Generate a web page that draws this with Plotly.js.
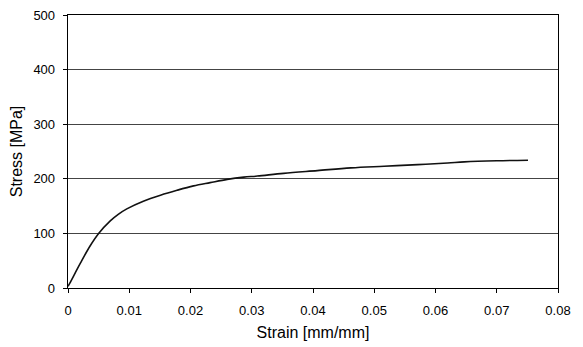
<!DOCTYPE html>
<html>
<head>
<meta charset="utf-8">
<script src="https://cdn.plot.ly/plotly-3.0.1.min.js"></script>
<style>html,body{margin:0;padding:0;background:#fff;}#chart{width:583px;height:347px;}</style>
</head>
<body>
<div id="chart"></div>
<script>
const strain = [0, 0.0003, 0.002, 0.0036, 0.005, 0.0069, 0.0082, 0.0096, 0.0123, 0.0151, 0.0178, 0.0205, 0.0232, 0.026, 0.0287, 0.0309, 0.0352, 0.0407, 0.0462, 0.0516, 0.0571, 0.062, 0.0647, 0.07, 0.0751];
const stress = [3, 9, 45, 77, 100, 123, 135, 145, 159, 170, 179, 187, 193, 199, 203, 205, 210, 215, 220, 223, 226, 229, 231, 233, 234];
const xTicks = [0, 0.01, 0.02, 0.03, 0.04, 0.05, 0.06, 0.07, 0.08];
const xTickLabels = ['0', '0.01', '0.02', '0.03', '0.04', '0.05', '0.06', '0.07', '0.08'];
const yTicks = [0, 100, 200, 300, 400, 500];

const trace = {
  x: strain, y: stress, type: 'scatter', mode: 'lines',
  line: {color: '#111', width: 1.6, shape: 'spline', smoothing: 1},
  hoverinfo: 'skip'
};

const layout = {
  width: 583, height: 347,
  margin: {l: 68, r: 25, t: 15, b: 59},
  paper_bgcolor: '#fff', plot_bgcolor: '#fff',
  showlegend: false,
  font: {family: 'Liberation Sans, Arial, sans-serif', size: 13, color: '#000'},
  xaxis: {
    range: [0, 0.08], tickvals: xTicks, ticktext: xTickLabels,
    showgrid: false, zeroline: false,
    showline: true, linecolor: '#000', linewidth: 1.3, mirror: true,
    ticks: 'outside', ticklen: 4, tickcolor: '#000',
    ticklabelstandoff: 6,
    tickfont: {size: 13},
    title: {text: 'Strain [mm/mm]', font: {size: 16}, standoff: 10}
  },
  yaxis: {
    range: [0, 500], tickvals: yTicks,
    showgrid: true, gridcolor: '#444', gridwidth: 1,
    zeroline: false,
    showline: true, linecolor: '#000', linewidth: 1.3, mirror: true,
    ticks: 'outside', ticklen: 4, tickcolor: '#000',
    ticklabelstandoff: 5,
    tickfont: {size: 13},
    title: {text: 'Stress [MPa]', font: {size: 16}, standoff: 6}
  }
};

Plotly.newPlot('chart', [trace], layout, {staticPlot: true, displayModeBar: false});
</script>
</body>
</html>
